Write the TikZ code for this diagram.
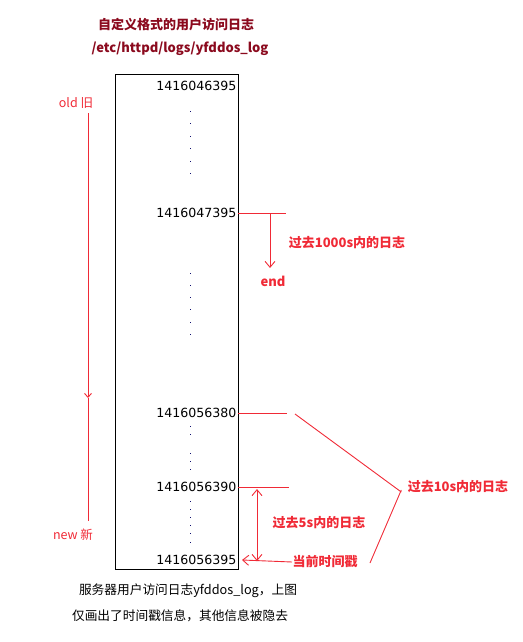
\documentclass[tikz,border=0pt]{standalone}
\usepackage{fontspec}
\setmainfont{Noto Sans CJK SC}
\newfontfamily\numfont{DejaVu Sans}
\usetikzlibrary{arrows,arrows.meta}

\definecolor{titlered}{HTML}{8B0A1E}
\definecolor{markred}{HTML}{F02A36}
\definecolor{dotblue}{HTML}{101070}

\begin{document}
\begin{tikzpicture}[x=1pt,y=-1pt,>={Straight Barb[length=6pt,width=10pt]},line width=1pt,
		title/.style={text=titlered,font=\fontsize{13}{15}\selectfont\bfseries,inner sep=0pt},
		stamp/.style={anchor=east,inner sep=1pt,font=\numfont\fontsize{12.6}{14}\selectfont},
		tag/.style={text=markred,font=\fontsize{13}{15}\selectfont\bfseries,inner sep=0pt},
		side/.style={text=markred,font=\fontsize{12.5}{14}\selectfont,inner sep=0pt},
		note/.style={font=\fontsize{12.7}{14}\selectfont,inner sep=0pt},
		redline/.style={draw=markred,line width=0.9pt}]
	\useasboundingbox (0,0) rectangle (522,642);

	% headings
	\node[title] (head)  at (176,25) {自定义格式的用户访问日志};
	\node[title] (path)  at (180,49) {/etc/httpd/logs/yfddos\_log};

	% the log file
	\draw (115,74) rectangle (238,569);
	\node[stamp] (t1) at (238,86)  {1416046395};
	\node[stamp] (t2) at (238,213) {1416047395};
	\node[stamp] (t3) at (238,413) {1416056380};
	\node[stamp] (t4) at (238,487) {1416056390};
	\node[stamp] (t5) at (238,560) {1416056395};

	\foreach \y in {111,123,136,148,161,173,273,285,297,309,322,334,426,434,453,461,469,501,509,517,525,533,542}
		\fill[dotblue] (190,\y) rectangle +(1.1,1.1);

	% old -> new
	\node[side] (old) at (76,103) {old 旧};
	\node[side] (new) at (73,535) {new 新};
	\coordinate (top) at (88,113);
	\coordinate (mid) at (88,398);
	\coordinate (bot) at (88,521);
	\draw[redline,-{Straight Barb[length=4pt,width=7pt]}] (top) -- (mid);
	\draw[redline] (mid) -- (bot);

	% last 1000s
	\coordinate (r2) at (286,213);
	\coordinate (b2) at (270,213);
	\coordinate (e2) at (270,268);
	\node[tag] (lab1000) at (347,243) {过去1000s内的日志};
	\node[tag] (end) at (273,281) {end};
	\draw[redline] (t2.east) -- (r2);
	\draw[redline,->] (b2) -- (e2);

	% last 10s
	\coordinate (r3) at (287,413);
	\coordinate (r4) at (289,487);
	\node[tag] (lab10) at (458,487) {过去10s内的日志};
	\coordinate (d1) at (295,414);
	\coordinate (d2) at (370,563);
	\draw[redline] (t3.east) -- (r3);
	\draw[redline] (t4.east) -- (r4);
	\draw[redline] (d1) -- ([xshift=-6pt,yshift=-5pt]lab10.west);
	\draw[redline] ([xshift=-6pt,yshift=-3pt]lab10.west) -- (d2);

	% last 5s
	\coordinate (v4) at (257,489);
	\coordinate (v5) at (257,561);
	\node[tag] (lab5) at (319,523) {过去5s内的日志};
	\draw[redline,<->] (v4) -- (v5);

	% current stamp
	\node[tag] (now) at (325,562) {当前时间戳};
	\draw[redline,->] (now.west) -- ([xshift=4pt]t5.east);

	% caption
	\node[note] (cap1) at (188,591) {服务器用户访问日志yfddos\_log，上图};
	\node[note] (cap2) at (180,616) {仅画出了时间戳信息，其他信息被隐去};
\end{tikzpicture}
\end{document}
